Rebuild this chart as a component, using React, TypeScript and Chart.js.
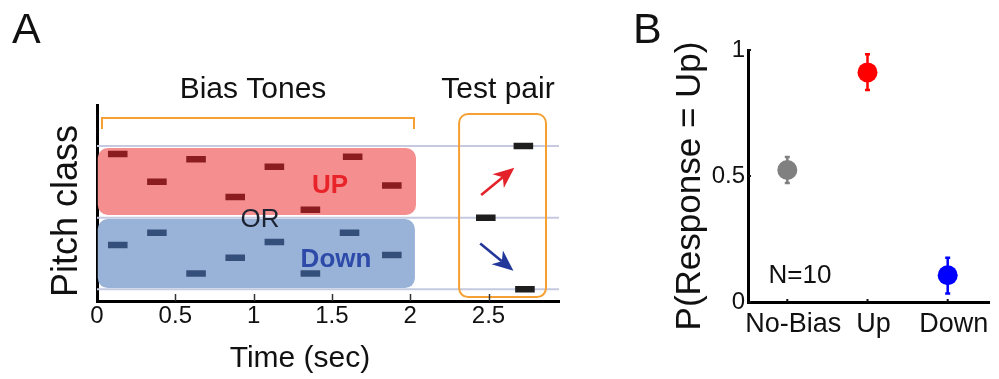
import React, { useEffect, useRef } from "react";
import { Chart, registerables } from "chart.js";
Chart.register(...registerables);

const FONT = '"Liberation Sans", Arial, Helvetica, sans-serif';

// ---------- Panel A data ----------
const timeTicks = [0, 0.5, 1, 1.5, 2, 2.5];
const timeMin = 0;
const timeMax = 2.95;
const pitchMin = -1.163;
const pitchMax = 1.573;
const pitchGuides = [1, 0, -1];
const toneDuration = 0.125;
const upToneOnsets = [0.07, 0.32, 0.57, 0.82, 1.07, 1.3, 1.57, 1.82];
const upTonePitches = [0.89, 0.5, 0.815, 0.29, 0.71, 0.11, 0.85, 0.45];
const downToneOnsets = [0.07, 0.32, 0.57, 0.82, 1.07, 1.3, 1.55, 1.82];
const downTonePitches = [-0.38, -0.21, -0.78, -0.56, -0.34, -0.78, -0.21, -0.52];
const testToneOnsets = [2.42, 2.66, 2.67];
const testTonePitches = [0, 1, -1];

// annotation extents in data units (time, pitch)
const upBox = { t0: 0.005, t1: 2.037, p0: 0.037, p1: 0.972 };
const downBox = { t0: 0.005, t1: 2.03, p0: -0.983, p1: -0.019 };
const biasBracket = { t0: 0.032, t1: 2.024, pTop: 1.391, pEnd: 1.238 };
const testBox = { t0: 2.312, t1: 2.867, p0: -1.108, p1: 1.447 };
const upArrow = { t0: 2.453, p0: 0.316, t1: 2.665, p1: 0.697 };
const downArrow = { t0: 2.447, p0: -0.359, t1: 2.659, p1: -0.741 };

// ---------- Panel B data ----------
const conditions = ["No-Bias", "Up", "Down"];
const pUp = [0.524, 0.911, 0.106];
const pUpLow = [0.472, 0.841, 0.034];
const pUpHigh = [0.575, 0.983, 0.176];
const conditionColors = ["#808080", "#ff0000", "#0000ff"];
const pTicks = [0, 0.5, 1];

function toSegments(onsets: number[], pitches: number[]) {
  const out: any[] = [];
  onsets.forEach((t, i) => {
    out.push({ x: t, y: pitches[i] });
    out.push({ x: t + toneDuration, y: pitches[i] });
    out.push({ x: t + toneDuration, y: null });
  });
  return out;
}

function roundRectPath(ctx: CanvasRenderingContext2D, x: number, y: number, w: number, h: number, r: number) {
  ctx.beginPath();
  ctx.moveTo(x + r, y);
  ctx.lineTo(x + w - r, y);
  ctx.arcTo(x + w, y, x + w, y + r, r);
  ctx.lineTo(x + w, y + h - r);
  ctx.arcTo(x + w, y + h, x + w - r, y + h, r);
  ctx.lineTo(x + r, y + h);
  ctx.arcTo(x, y + h, x, y + h - r, r);
  ctx.lineTo(x, y + r);
  ctx.arcTo(x, y, x + r, y, r);
  ctx.closePath();
}

function drawArrow(ctx: CanvasRenderingContext2D, x1: number, y1: number, x2: number, y2: number, color: string) {
  const dx = x2 - x1, dy = y2 - y1;
  const len = Math.hypot(dx, dy);
  const ux = dx / len, uy = dy / len;
  const nx = -uy, ny = ux;
  const L = 21, W = 9, notch = 6;
  const bx = x2 - ux * L, by = y2 - uy * L;
  const mx = x2 - ux * (L - notch), my = y2 - uy * (L - notch);
  ctx.save();
  ctx.strokeStyle = color;
  ctx.fillStyle = color;
  ctx.lineWidth = 2.6;
  ctx.beginPath();
  ctx.moveTo(x1, y1);
  ctx.lineTo(mx, my);
  ctx.stroke();
  ctx.beginPath();
  ctx.moveTo(x2, y2);
  ctx.lineTo(bx + nx * W, by + ny * W);
  ctx.lineTo(mx, my);
  ctx.lineTo(bx - nx * W, by - ny * W);
  ctx.closePath();
  ctx.fill();
  ctx.restore();
}

function rotatedText(ctx: CanvasRenderingContext2D, text: string, x: number, y: number, font: string) {
  ctx.save();
  ctx.translate(x, y);
  ctx.rotate(-Math.PI / 2);
  ctx.font = font;
  ctx.textAlign = "center";
  ctx.textBaseline = "alphabetic";
  ctx.fillText(text, 0, 0);
  ctx.restore();
}

const panelAPlugin = {
  id: "panelA",
  beforeDatasetsDraw(chart: any) {
    const { ctx, scales } = chart;
    const x = scales.x, y = scales.y;
    const boxes = [
      { b: upBox, color: "#f58f8f" },
      { b: downBox, color: "#98b2d8" },
    ];
    ctx.save();
    for (const { b, color } of boxes) {
      const x0 = x.getPixelForValue(b.t0), x1 = x.getPixelForValue(b.t1);
      const y0 = y.getPixelForValue(b.p1), y1 = y.getPixelForValue(b.p0);
      roundRectPath(ctx, x0, y0, x1 - x0, y1 - y0, 10);
      ctx.fillStyle = color;
      ctx.fill();
    }
    ctx.restore();
  },
  afterDatasetsDraw(chart: any) {
    const { ctx, scales } = chart;
    const x = scales.x, y = scales.y;
    ctx.save();
    // bracket
    ctx.strokeStyle = "#f6a033";
    ctx.lineWidth = 2;
    ctx.beginPath();
    ctx.moveTo(x.getPixelForValue(biasBracket.t0), y.getPixelForValue(biasBracket.pEnd));
    ctx.lineTo(x.getPixelForValue(biasBracket.t0), y.getPixelForValue(biasBracket.pTop));
    ctx.lineTo(x.getPixelForValue(biasBracket.t1), y.getPixelForValue(biasBracket.pTop));
    ctx.lineTo(x.getPixelForValue(biasBracket.t1), y.getPixelForValue(biasBracket.pEnd));
    ctx.stroke();
    // test box
    const tx0 = x.getPixelForValue(testBox.t0), tx1 = x.getPixelForValue(testBox.t1);
    const ty0 = y.getPixelForValue(testBox.p1), ty1 = y.getPixelForValue(testBox.p0);
    roundRectPath(ctx, tx0, ty0, tx1 - tx0, ty1 - ty0, 9);
    ctx.stroke();
    // arrows
    drawArrow(ctx, x.getPixelForValue(upArrow.t0), y.getPixelForValue(upArrow.p0),
      x.getPixelForValue(upArrow.t1), y.getPixelForValue(upArrow.p1), "#e3222a");
    drawArrow(ctx, x.getPixelForValue(downArrow.t0), y.getPixelForValue(downArrow.p0),
      x.getPixelForValue(downArrow.t1), y.getPixelForValue(downArrow.p1), "#23369a");
    // labels inside plot
    ctx.textAlign = "center";
    ctx.textBaseline = "alphabetic";
    ctx.font = `bold 26px ${FONT}`;
    ctx.fillStyle = "#e8232a";
    ctx.fillText("UP", 330, 193);
    ctx.fillStyle = "#2e4aa8";
    ctx.fillText("Down", 336, 267);
    ctx.font = `26px ${FONT}`;
    ctx.fillStyle = "#1c2230";
    ctx.fillText("OR", 260, 227);
    ctx.restore();
  },
  afterDraw(chart: any) {
    const { ctx, scales, chartArea } = chart;
    const x = scales.x;
    ctx.save();
    // inward ticks
    ctx.strokeStyle = "#333";
    ctx.lineWidth = 1.5;
    for (const v of timeTicks) {
      if (v === 0) continue;
      const px = Math.round(x.getPixelForValue(v)) + 0.5;
      ctx.beginPath();
      ctx.moveTo(px, chartArea.bottom);
      ctx.lineTo(px, chartArea.bottom - 7);
      ctx.stroke();
    }
    ctx.fillStyle = "#111";
    ctx.textBaseline = "alphabetic";
    ctx.font = `43px ${FONT}`;
    ctx.textAlign = "left";
    ctx.fillText("A", 12, 43);
    ctx.textAlign = "center";
    ctx.font = `30px ${FONT}`;
    ctx.fillText("Bias Tones", 253, 98);
    ctx.fillText("Test pair", 498, 98);
    ctx.fillText("Time (sec)", 300, 367);
    rotatedText(ctx, "Pitch class", 77, 211, `36px ${FONT}`);
    ctx.restore();
  },
};

const panelBPlugin = {
  id: "panelB",
  beforeDatasetsDraw(chart: any) {
    const { ctx, scales } = chart;
    const x = scales.x, y = scales.y;
    ctx.save();
    ctx.lineWidth = 2.5;
    conditions.forEach((_, i) => {
      const px = x.getPixelForValue(i);
      const lo = y.getPixelForValue(pUpLow[i]);
      const hi = y.getPixelForValue(pUpHigh[i]);
      ctx.strokeStyle = conditionColors[i];
      ctx.beginPath();
      ctx.moveTo(px, lo);
      ctx.lineTo(px, hi);
      ctx.moveTo(px - 2.5, lo);
      ctx.lineTo(px + 2.5, lo);
      ctx.moveTo(px - 2.5, hi);
      ctx.lineTo(px + 2.5, hi);
      ctx.stroke();
    });
    ctx.restore();
  },
  afterDraw(chart: any) {
    const { ctx, scales, chartArea } = chart;
    const x = scales.x, y = scales.y;
    ctx.save();
    ctx.strokeStyle = "#111";
    ctx.lineWidth = 2;
    conditions.forEach((_, i) => {
      const px = x.getPixelForValue(i);
      ctx.beginPath();
      ctx.moveTo(px, chartArea.bottom);
      ctx.lineTo(px, chartArea.bottom - 3);
      ctx.stroke();
    });
    for (const v of pTicks) {
      const py = y.getPixelForValue(v);
      ctx.beginPath();
      ctx.moveTo(chartArea.left, py);
      ctx.lineTo(chartArea.left + 3, py);
      ctx.stroke();
    }
    ctx.fillStyle = "#111";
    ctx.textBaseline = "alphabetic";
    ctx.font = `43px ${FONT}`;
    ctx.textAlign = "left";
    ctx.fillText("B", 33, 43);
    ctx.font = `26px ${FONT}`;
    ctx.textAlign = "center";
    ctx.fillText("N=10", 200, 283);
    rotatedText(ctx, "P(Response = Up)", 100, 186, `35px ${FONT}`);
    ctx.restore();
  },
};

export default function App() {
  const refA = useRef<HTMLCanvasElement>(null);
  const refB = useRef<HTMLCanvasElement>(null);

  useEffect(() => {
    Chart.defaults.font.family = FONT;
    Chart.defaults.color = "#111";

    const guideDatasets = pitchGuides.map((p) => ({
      type: "line" as const,
      data: [{ x: timeMin, y: p }, { x: timeMax, y: p }],
      borderColor: "#c6cae0",
      borderWidth: 2,
      pointRadius: 0,
      order: 5,
    }));
    const toneDs = (onsets: number[], pitches: number[], color: string) => ({
      type: "line" as const,
      data: toSegments(onsets, pitches),
      borderColor: color,
      borderWidth: 6.5,
      borderCapStyle: "butt" as const,
      pointRadius: 0,
      spanGaps: false,
      order: 1,
    });

    const chartA = new Chart(refA.current!, {
      type: "line",
      data: {
        datasets: [
          ...guideDatasets,
          toneDs(upToneOnsets, upTonePitches, "#8b1c1f"),
          toneDs(downToneOnsets, downTonePitches, "#34507a"),
          toneDs(testToneOnsets, testTonePitches, "#1e1e1e"),
        ] as any,
      },
      options: {
        animation: false,
        responsive: false,
        events: [],
        layout: { padding: { top: 105, right: 41, left: 0, bottom: 0 } },
        plugins: { legend: { display: false }, tooltip: { enabled: false } },
        scales: {
          x: {
            type: "linear",
            min: timeMin,
            max: timeMax,
            z: 1,
            afterFit: (s: any) => { s.height = 78; },
            afterBuildTicks: (s: any) => { s.ticks = timeTicks.map((v) => ({ value: v })); },
            grid: { display: false, drawTicks: false },
            border: { display: true, color: "#000", width: 3 },
            ticks: {
              autoSkip: false, maxRotation: 0, minRotation: 0, padding: 1,
              font: { size: 24, family: FONT }, color: "#111",
              callback: (v: any) => String(v),
            },
          },
          y: {
            type: "linear",
            min: pitchMin,
            max: pitchMax,
            z: 1,
            afterFit: (s: any) => { s.width = 97; },
            grid: { display: false, drawTicks: false },
            border: { display: true, color: "#000", width: 3 },
            ticks: { display: false },
          },
        },
      },
      plugins: [panelAPlugin],
    });

    const chartB = new Chart(refB.current!, {
      type: "scatter",
      data: {
        datasets: [
          {
            data: conditions.map((_, i) => ({ x: i, y: pUp[i] })),
            pointRadius: 10,
            pointHoverRadius: 10,
            pointBorderWidth: 0,
            pointBackgroundColor: conditionColors,
            pointBorderColor: conditionColors,
          },
        ],
      },
      options: {
        animation: false,
        responsive: false,
        events: [],
        layout: { padding: { top: 50, right: 0, left: 0, bottom: 0 } },
        plugins: { legend: { display: false }, tooltip: { enabled: false } },
        scales: {
          x: {
            type: "linear",
            min: -0.49,
            max: 2.515,
            afterFit: (s: any) => { s.height = 77; },
            afterBuildTicks: (s: any) => { s.ticks = conditions.map((_, i) => ({ value: i })); },
            grid: { display: false, drawTicks: false },
            border: { display: true, color: "#000", width: 3 },
            ticks: {
              autoSkip: false, maxRotation: 0, minRotation: 0, padding: 6, labelOffset: 6,
              font: { size: 27, family: FONT }, color: "#111",
              callback: (_v: any, i: number) => conditions[i],
            },
          },
          y: {
            type: "linear",
            min: 0,
            max: 1,
            afterFit: (s: any) => { s.width = 148; },
            afterBuildTicks: (s: any) => { s.ticks = pTicks.map((v) => ({ value: v })); },
            grid: { display: false, drawTicks: false },
            border: { display: true, color: "#000", width: 3 },
            ticks: {
              autoSkip: false, padding: 3,
              font: { size: 24, family: FONT }, color: "#111",
              callback: (v: any) => String(v),
            },
          },
        },
      },
      plugins: [panelBPlugin],
    });

    return () => {
      chartA.destroy();
      chartB.destroy();
    };
  }, []);

  return (
    <div style={{ position: "absolute", left: 0, top: 0, width: 999, height: 379, background: "#fff", overflow: "hidden" }}>
      <canvas ref={refA} width={600} height={379} style={{ position: "absolute", left: 0, top: 0, width: 600, height: 379 }} />
      <canvas ref={refB} width={399} height={379} style={{ position: "absolute", left: 600, top: 0, width: 399, height: 379 }} />
    </div>
  );
}
